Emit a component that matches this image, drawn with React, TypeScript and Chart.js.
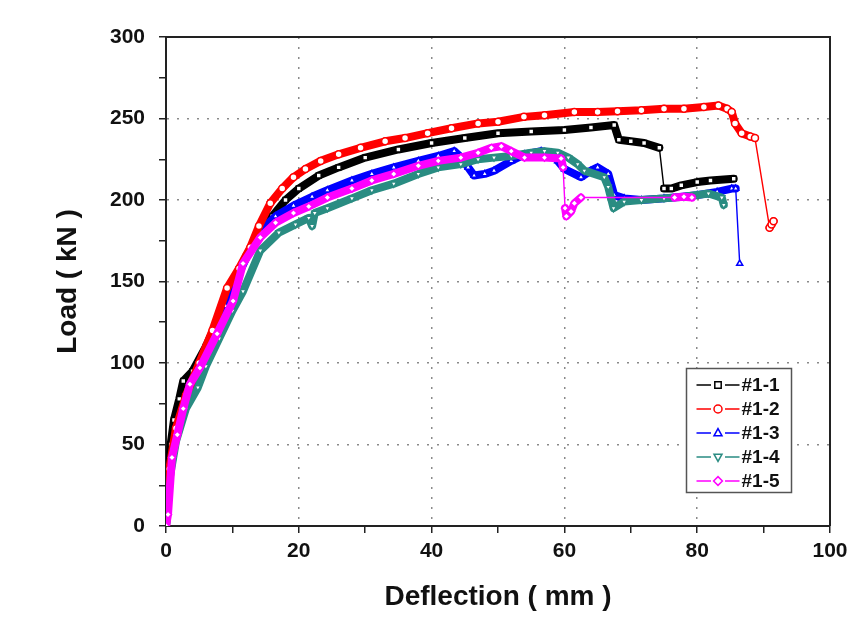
import React, { useEffect, useRef } from "react";
import { Chart, registerables } from "chart.js";

Chart.register(...registerables);

// ---- data (Deflection mm, Load kN) ----
const s11X = [0, 0.3, 0.7, 1.2, 2.0, 2.6, 4, 6, 8, 10, 12, 14, 16, 18, 20, 23, 26, 30, 35, 40, 45, 50, 55, 60, 64, 67.5, 68.2, 70, 72, 74.3, 75.0, 76.1, 77.6, 80, 82, 85.5];
const s11Y = [0, 30, 50, 65, 78, 89, 95, 110, 128, 148, 165, 180, 190, 200, 207, 215, 220, 226, 231, 235, 238, 241, 242, 243, 244.5, 246, 237, 236, 235, 232, 207, 207, 209, 211, 212, 213];

const s12X = [0, 0.5, 1.5, 3, 5, 7, 9.2, 11, 12.7, 14, 15.7, 17.5, 19.2, 21, 23.3, 26, 29.3, 33, 36, 39.4, 43, 47, 50, 53.9, 57, 61.5, 65, 68, 71.6, 75, 78, 81, 83.2, 84.5, 85.2, 85.7, 86.7, 88, 88.7, 90.9, 91.2, 91.5];
const s12Y = [0, 35, 60, 80, 100, 120, 146, 158, 171, 184, 198, 207, 214, 219, 224, 228, 232, 236, 238, 241, 244, 247, 248, 251, 252, 254, 254, 254.5, 255, 256, 256, 257, 258, 256, 254, 247, 241, 239, 238, 183, 185, 187];

const s13X = [0, 0.5, 1.5, 3, 5, 7, 9, 11, 12.5, 14.2, 16.5, 19.2, 22, 24.3, 28, 31, 34.3, 38, 41, 43.4, 44.5, 45.5, 46.4, 48, 49.4, 52, 54, 56.5, 58, 59, 60, 62.5, 64, 65, 66.6, 67.5, 69, 71.6, 75, 80, 83, 85.2, 85.8, 86.4];
const s13Y = [0, 30, 55, 75, 97, 115, 135, 155, 168, 181, 190, 196.5, 202, 206, 212, 216, 220, 224, 227, 230, 226, 220, 215, 216, 218, 224, 228, 230, 229, 224, 219, 214, 218, 220, 216, 203, 201, 200, 201, 203, 205, 207, 207, 161];

const s14X = [0, 0.5, 1.5, 3, 4.8, 6, 8, 10, 11.6, 14.2, 17, 19.5, 21.5, 22, 22.4, 24.3, 28, 31, 34.3, 38, 41, 44.4, 47, 49.4, 52, 55, 57, 59, 60.6, 62, 63, 66, 66.6, 67.4, 69, 71.6, 75, 78, 81.7, 83.7, 84];
const s14Y = [0, 28, 52, 72, 85, 98, 115, 132, 144, 169, 180, 185, 189, 184, 192, 195, 201, 206, 210, 216, 220, 222, 225, 226, 227, 229, 230, 229, 226, 222, 218, 214, 208, 195, 199, 200, 201, 202, 204, 201.5, 197];

const s15X = [0, 0.3, 0.9, 1.7, 2.6, 3.6, 5.1, 7.7, 10.1, 11.6, 14.2, 16.5, 19.2, 21.5, 24.3, 28, 31, 34.3, 38, 41, 44.4, 47, 49, 50.5, 52, 54, 57, 59.5, 59.8, 60.1, 60.3, 61, 61.5, 62.5, 76.6, 78, 79.2];
const s15Y = [0, 7, 42, 56, 72, 87, 97, 118, 138, 161, 177, 186, 192, 196, 201.5, 207, 212, 216, 221, 224, 226, 229, 232, 233, 230, 226, 226, 225.5, 220, 195, 190, 193, 198, 201.5, 201.5, 202, 201.5];

const seriesNames = ["#1-1", "#1-2", "#1-3", "#1-4", "#1-5"];
const seriesColors = ["#000000", "#ff0000", "#0000ff", "#2a8c82", "#ff00ff"];
const seriesStyles = ["rect", "circle", "triangle", "triangle", "rectRot"];
const seriesRotation = [0, 0, 0, 180, 0];
const seriesOrder = [4, 1, 3, 2, 0];
const seriesX = [s11X, s12X, s13X, s14X, s15X];
const seriesY = [s11Y, s12Y, s13Y, s14Y, s15Y];

const xTickMin = 0, xTickMax = 100, xMinorStep = 10, xMajorStep = 20;
const yTickMin = 0, yTickMax = 300, yMinorStep = 25, yMajorStep = 50;

const FONT = "'Liberation Sans', Arial, sans-serif";

function drawMarker(ctx: CanvasRenderingContext2D, style: string, rot: number, x: number, y: number, r: number) {
  ctx.save();
  ctx.translate(x, y);
  ctx.rotate((rot * Math.PI) / 180);
  ctx.beginPath();
  if (style === "rect") {
    ctx.rect(-r * 0.8, -r * 0.8, r * 1.6, r * 1.6);
  } else if (style === "circle") {
    ctx.arc(0, 0, r, 0, Math.PI * 2);
  } else if (style === "triangle") {
    ctx.moveTo(0, -r * 1.1);
    ctx.lineTo(r, r * 0.7);
    ctx.lineTo(-r, r * 0.7);
    ctx.closePath();
  } else {
    ctx.moveTo(0, -r * 1.1);
    ctx.lineTo(r * 1.1, 0);
    ctx.lineTo(0, r * 1.1);
    ctx.lineTo(-r * 1.1, 0);
    ctx.closePath();
  }
  ctx.fillStyle = "#ffffff";
  ctx.fill();
  ctx.stroke();
  ctx.restore();
}

const framePlugin = {
  id: "frameAndLegend",
  afterDraw(chart: any) {
    const { ctx, chartArea } = chart;
    ctx.save();
    ctx.strokeStyle = "#222222";
    ctx.lineWidth = 2;
    ctx.beginPath();
    ctx.moveTo(chartArea.left, chartArea.top);
    ctx.lineTo(chartArea.right, chartArea.top);
    ctx.lineTo(chartArea.right, chartArea.bottom);
    ctx.stroke();

    // legend box
    const bx = chartArea.right - 143.5;
    const by = chartArea.bottom - 157.5;
    const bw = 105;
    const bh = 124;
    ctx.fillStyle = "#ffffff";
    ctx.fillRect(bx, by, bw, bh);
    ctx.strokeStyle = "#555555";
    ctx.lineWidth = 1.5;
    ctx.strokeRect(bx, by, bw, bh);
    seriesNames.forEach((name, i) => {
      const y = by + 16.5 + i * 24;
      const mx = bx + 31.5;
      ctx.strokeStyle = seriesColors[i];
      ctx.lineWidth = 1.5;
      ctx.beginPath();
      ctx.moveTo(bx + 10, y);
      ctx.lineTo(mx - 7, y);
      ctx.moveTo(mx + 7, y);
      ctx.lineTo(bx + 53, y);
      ctx.stroke();
      drawMarker(ctx, seriesStyles[i], seriesRotation[i], mx, y, 4);
      ctx.fillStyle = "#111111";
      ctx.font = `bold 19px ${FONT}`;
      ctx.textAlign = "left";
      ctx.textBaseline = "middle";
      ctx.fillText(name, bx + 55, y + 1);
    });
    ctx.restore();
  },
};

const segWidth = (c: any) => {
  const dx = c.p1.parsed.x - c.p0.parsed.x;
  const dy = c.p1.parsed.y - c.p0.parsed.y;
  return dy < -20 || dx > 8 ? 1.4 : 8;
};

export default function App() {
  const ref = useRef<HTMLCanvasElement | null>(null);

  useEffect(() => {
    if (!ref.current) return;
    const datasets = seriesNames.map((name, i) => ({
      label: name,
      data: seriesX[i].map((x, j) => ({ x, y: seriesY[i][j] })),
      borderColor: seriesColors[i],
      backgroundColor: "#ffffff",
      pointBackgroundColor: "#ffffff",
      pointBorderColor: seriesColors[i],
      pointStyle: seriesStyles[i] as any,
      pointRotation: seriesRotation[i],
      pointRadius: 3.5,
      pointBorderWidth: 1.5,
      borderWidth: 8,
      borderJoinStyle: "round",
      borderCapStyle: "round",
      order: seriesOrder[i],
      segment: { borderWidth: segWidth },
      tension: 0,
      fill: false,
    }));

    const chart = new Chart(ref.current, {
      type: "line",
      data: { datasets },
      plugins: [framePlugin],
      options: {
        animation: false,
        responsive: true,
        maintainAspectRatio: false,
        layout: { padding: { top: 37, right: 37, left: 0, bottom: 0 } },
        plugins: { legend: { display: false }, tooltip: { enabled: false } },
        scales: {
          x: {
            type: "linear",
            min: xTickMin,
            max: xTickMax,
            afterFit: (s: any) => {
              s.height = 112;
            },
            ticks: {
              stepSize: xMinorStep,
              color: "#111111",
              font: { family: FONT, size: 21, weight: "bold" },
              padding: 6,
              maxRotation: 0,
              autoSkip: false,
              callback: (v: any) => (Number(v) % xMajorStep === 0 ? String(v) : ""),
            },
            grid: {
              color: (c: any) =>
                c.tick && c.tick.value % xMajorStep === 0 && c.tick.value > xTickMin && c.tick.value < xTickMax
                  ? "#8a8a8a"
                  : "rgba(0,0,0,0)",
              lineWidth: 1.5,
              tickColor: "#222222",
              tickLength: 7,
              tickWidth: 1.5,
            },
            border: { display: true, color: "#222222", width: 2, dash: [2, 8] },
            title: {
              display: true,
              text: "Deflection ( mm )",
              color: "#111111",
              font: { family: FONT, size: 28, weight: "bold" },
              padding: { top: 0, bottom: 24 },
            },
          },
          y: {
            type: "linear",
            min: yTickMin,
            max: yTickMax,
            afterFit: (s: any) => {
              s.width = 166;
            },
            ticks: {
              stepSize: yMinorStep,
              color: "#111111",
              font: { family: FONT, size: 21, weight: "bold" },
              padding: 14,
              autoSkip: false,
              callback: (v: any) => (Number(v) % yMajorStep === 0 ? String(v) : ""),
            },
            grid: {
              color: (c: any) =>
                c.tick && c.tick.value % yMajorStep === 0 && c.tick.value > yTickMin && c.tick.value < yTickMax
                  ? "#8a8a8a"
                  : "rgba(0,0,0,0)",
              lineWidth: 1.5,
              tickColor: "#222222",
              tickLength: 7,
              tickWidth: 1.5,
            },
            border: { display: true, color: "#222222", width: 2, dash: [2, 8] },
            title: {
              display: true,
              text: "Load ( kN )",
              color: "#111111",
              font: { family: FONT, size: 28, weight: "bold" },
              padding: { top: 51, bottom: 0 },
            },
          },
        },
      } as any,
    });
    return () => chart.destroy();
  }, []);

  return (
    <div style={{ position: "fixed", left: 0, top: 0, width: 867, height: 638, background: "#ffffff" }}>
      <canvas ref={ref} />
    </div>
  );
}
